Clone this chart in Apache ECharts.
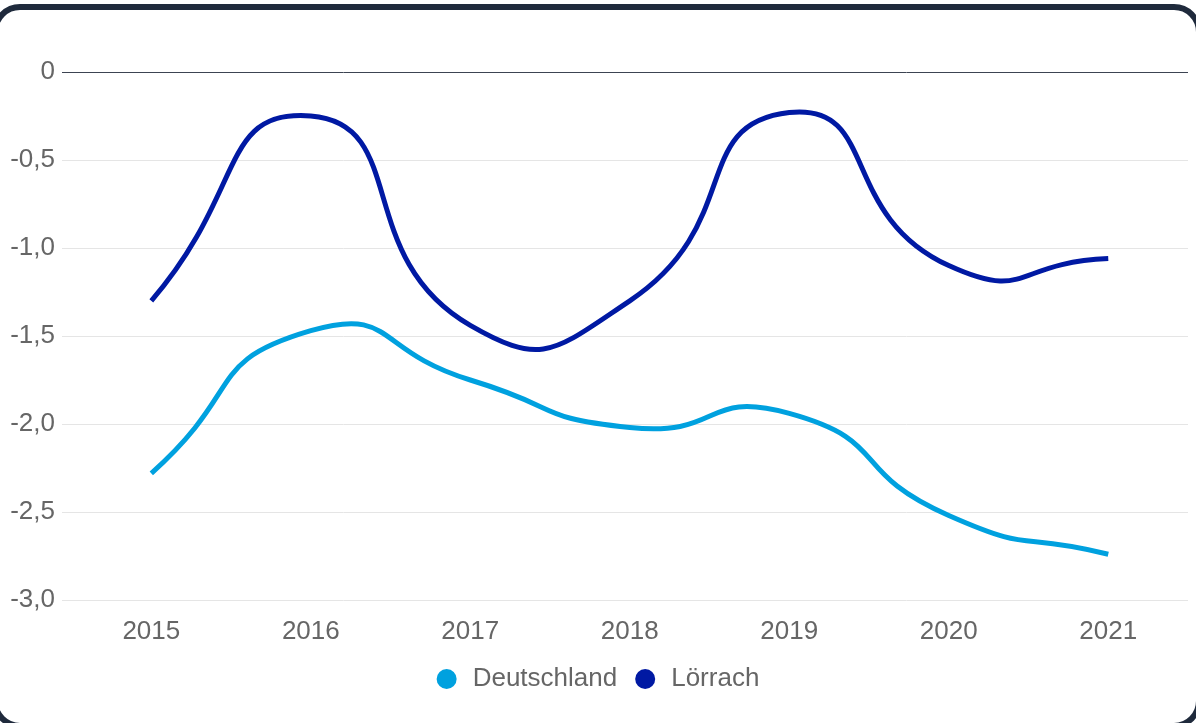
<!DOCTYPE html>
<html>
<head>
<meta charset="utf-8">
<script src="https://cdn.jsdelivr.net/npm/echarts@6/dist/echarts.min.js"></script>
<style>
html, body { margin: 0; padding: 0; background: #fff; overflow: hidden; }
#main { position: absolute; left: 0; top: 0; width: 1196px; height: 723px; }
#frame {
    position: absolute; left: -8px; top: 4px; width: 1210px; height: 725px;
    box-sizing: border-box; border: 6px solid #1f2a3c; border-radius: 28px;
    pointer-events: none;
}
</style>
</head>
<body>
<div id="main"></div>
<div id="frame"></div>
<script>
var years = [2015, 2016, 2017, 2018, 2019, 2020, 2021];
var deutschland = [-2.28, -1.47, -1.75, -2.02, -1.94, -2.52, -2.74];
var loerrach = [-1.30, -0.25, -1.44, -1.30, -0.23, -1.10, -1.06];

var font = 'Liberation Sans, Arial, sans-serif';
var tension = 0.6;
var myChart = echarts.init(document.getElementById('main'));

function pairs(vals) {
    return years.map(function (y, i) { return [y, vals[i]]; });
}

// cardinal spline through the data points (control points like a tension spline)
function splineItem(vals, color) {
    return function (params, api) {
        if (params.dataIndex !== 0) {
            return { type: 'group', children: [] };
        }
        var p = years.map(function (y, i) { return api.coord([y, vals[i]]); });
        var n = p.length;
        var cps = [];
        for (var i = 0; i < n; i++) {
            var p0 = p[Math.max(i - 1, 0)], p1 = p[i], p2 = p[Math.min(i + 1, n - 1)];
            var d01 = Math.hypot(p1[0] - p0[0], p1[1] - p0[1]);
            var d12 = Math.hypot(p2[0] - p1[0], p2[1] - p1[1]);
            var s01 = d01 / (d01 + d12), s12 = d12 / (d01 + d12);
            var fa = tension * s01, fb = tension * s12;
            cps.push({
                prev: [p1[0] - fa * (p2[0] - p0[0]), p1[1] - fa * (p2[1] - p0[1])],
                next: [p1[0] + fb * (p2[0] - p0[0]), p1[1] + fb * (p2[1] - p0[1])]
            });
        }
        var d = 'M' + p[0][0] + ' ' + p[0][1];
        for (var j = 1; j < n; j++) {
            d += ' C' + cps[j - 1].next[0] + ' ' + cps[j - 1].next[1] + ' ' +
                cps[j].prev[0] + ' ' + cps[j].prev[1] + ' ' + p[j][0] + ' ' + p[j][1];
        }
        return {
            type: 'path',
            shape: { pathData: d },
            style: { fill: null, stroke: color, lineWidth: 5, lineCap: 'butt', lineJoin: 'round' }
        };
    };
}

option = {
    animation: false,
    grid: { left: 62, right: 8, top: 72, bottom: 123, containLabel: false },
    legend: {
        data: ['Deutschland', 'Lörrach'],
        left: 'center',
        top: 661,
        icon: 'circle',
        itemWidth: 20,
        itemHeight: 20,
        itemGap: 18,
        textStyle: { fontFamily: font, fontSize: 26, color: '#666', padding: [0, 0, 0, 11] }
    },
    xAxis: {
        type: 'value',
        min: 2014.44,
        max: 2021.5,
        axisLine: { show: false },
        axisTick: { show: false },
        splitLine: { show: false },
        axisLabel: {
            customValues: years,
            margin: 19,
            fontFamily: font,
            fontSize: 26,
            color: '#666',
            formatter: function (v) { return String(v); }
        }
    },
    yAxis: {
        type: 'value',
        min: -3,
        max: 0,
        interval: 0.5,
        axisLine: { show: false },
        axisTick: { show: false },
        splitLine: { lineStyle: { color: ['#e5e5e5', '#e5e5e5', '#e5e5e5', '#e5e5e5', '#e5e5e5', '#e5e5e5', '#3c4452'], width: 1 } },
        axisLabel: {
            margin: 7,
            fontFamily: font,
            fontSize: 26,
            color: '#666',
            formatter: function (v) {
                return v === 0 ? '0' : v.toFixed(1).replace('.', ',');
            }
        }
    },
    series: [
        {
            name: 'Deutschland',
            type: 'custom',
            data: pairs(deutschland),
            itemStyle: { color: '#00a1df' },
            renderItem: splineItem(deutschland, '#00a1df')
        },
        {
            name: 'Lörrach',
            type: 'custom',
            data: pairs(loerrach),
            itemStyle: { color: '#0019a3' },
            renderItem: splineItem(loerrach, '#0019a3')
        }
    ]
};
myChart.setOption(option);
</script>
</body>
</html>
